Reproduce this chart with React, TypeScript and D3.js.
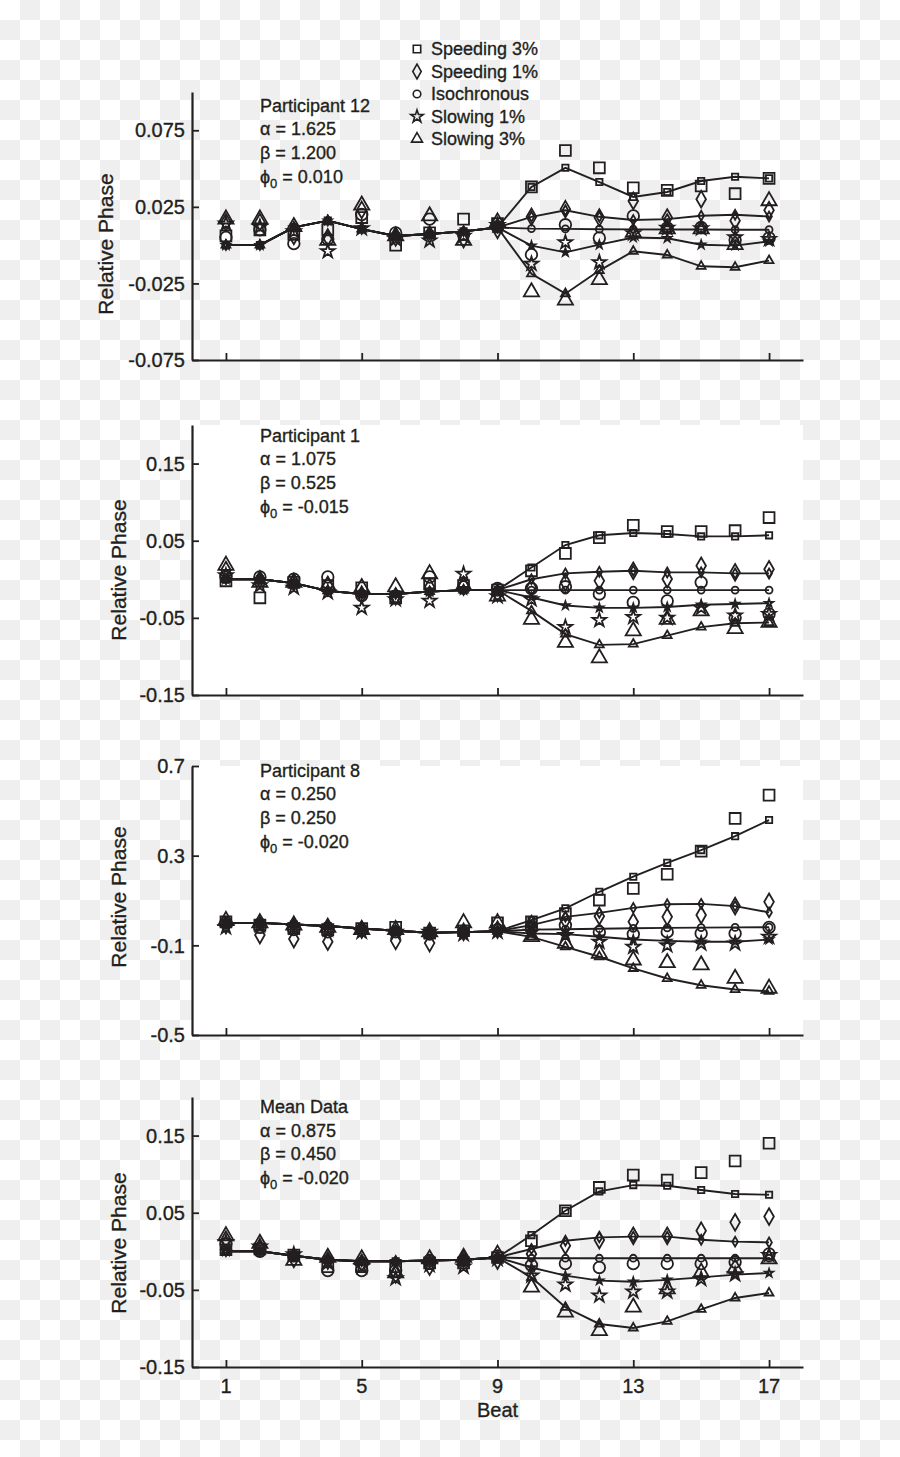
import { useEffect, useRef } from "react";
import * as d3 from "d3";

// Relative phase per beat, model fits (small markers joined by lines) and observed data (large markers)
const BEATS = [1, 2, 3, 4, 5, 6, 7, 8, 9, 10, 11, 12, 13, 14, 15, 16, 17];
const X_TICKS = [1, 5, 9, 13, 17];
const CONDITIONS = ["Speeding 3%", "Speeding 1%", "Isochronous", "Slowing 1%", "Slowing 3%"];

// Participant 12
const P12_Y_TICKS = [0.075, 0.025, -0.025, -0.075];
const P12_PARAMS = ["Participant 12", "1.625", "1.200", "0.010"];
const P12_MODEL_PRE = [0.0, 0.0, 0.0116, 0.016, 0.0105, 0.006, 0.0073, 0.009, 0.0115];
const P12_MODEL_SP3 = [0.038, 0.0505, 0.0412, 0.0315, 0.0347, 0.0419, 0.0447, 0.0436];
const P12_MODEL_SP1 = [0.0185, 0.0228, 0.0185, 0.0164, 0.017, 0.0192, 0.0198, 0.0187];
const P12_MODEL_ISO = [0.0108, 0.0106, 0.0104, 0.0103, 0.0102, 0.0102, 0.0101, 0.0101];
const P12_MODEL_SL1 = [-0.0003, -0.0047, 0.0003, 0.005, 0.0045, 0.0003, -0.0003, 0.0025];
const P12_MODEL_SL3 = [-0.0187, -0.0317, -0.0166, -0.004, -0.0064, -0.0138, -0.0144, -0.0101];
const P12_DATA_SP3 = [0.006, 0.01, 0.007, 0.01, 0.018, 0.0, 0.008, 0.017, 0.014, 0.038, 0.0618, 0.0505, 0.0375, 0.0358, 0.0386, 0.0336, 0.0436];
const P12_DATA_SP1 = [0.015, 0.015, 0.006, 0.005, 0.023, 0.005, 0.007, 0.004, 0.01, 0.0185, 0.0235, 0.018, 0.0289, 0.018, 0.03, 0.016, 0.0228];
const P12_DATA_ISO = [0.005, 0.01, 0.001, 0.004, 0.02, 0.008, 0.017, 0.007, 0.012, -0.0062, 0.0133, 0.0047, 0.0191, 0.0112, 0.0115, 0.0034, 0.0047];
const P12_DATA_SL1 = [0.014, 0.012, 0.009, -0.004, 0.011, 0.004, 0.003, 0.006, 0.013, -0.0122, 0.0018, -0.0112, 0.0077, 0.0112, 0.011, 0.005, 0.004];
const P12_DATA_SL3 = [0.017, 0.017, 0.012, 0.003, 0.026, 0.006, 0.019, 0.003, 0.015, -0.0306, -0.036, -0.0226, 0.0083, 0.0105, 0.0105, 0.0003, 0.0289];

// Participant 1
const P1_Y_TICKS = [0.15, 0.05, -0.05, -0.15];
const P1_PARAMS = ["Participant 1", "1.075", "0.525", "-0.015"];
const P1_MODEL_PRE = [0.0, 0.0, -0.005, -0.015, -0.019, -0.019, -0.016, -0.014, -0.014];
const P1_MODEL_SP3 = [0.0153, 0.0444, 0.057, 0.06, 0.0587, 0.0556, 0.0556, 0.057];
const P1_MODEL_SP1 = [0.0, 0.0076, 0.0097, 0.011, 0.0089, 0.009, 0.0076, 0.0076];
const P1_MODEL_ISO = [-0.014, -0.014, -0.014, -0.014, -0.014, -0.014, -0.014, -0.014];
const P1_MODEL_SL1 = [-0.0236, -0.034, -0.037, -0.037, -0.036, -0.033, -0.032, -0.031];
const P1_MODEL_SL3 = [-0.041, -0.071, -0.085, -0.084, -0.073, -0.062, -0.057, -0.056];
const P1_DATA_SP3 = [-0.002, -0.024, -0.004, -0.008, -0.011, -0.024, -0.006, -0.008, -0.014, 0.011, 0.0335, 0.054, 0.07, 0.062, 0.062, 0.063, 0.08];
const P1_DATA_SP1 = [0.012, 0.0, -0.004, -0.008, -0.02, -0.022, -0.01, -0.008, -0.018, -0.0106, -0.004, -0.002, 0.011, 0.0003, 0.0175, 0.009, 0.013];
const P1_DATA_ISO = [0.004, 0.003, 0.0, 0.003, -0.021, -0.024, 0.003, -0.01, -0.012, -0.012, -0.0097, -0.019, -0.03, -0.028, -0.004, -0.05, -0.045];
const P1_DATA_SL1 = [0.005, -0.008, -0.011, -0.017, -0.037, -0.026, -0.028, 0.007, -0.022, -0.026, -0.062, -0.053, -0.049, -0.05, -0.037, -0.047, -0.045];
const P1_DATA_SL3 = [0.018, -0.004, -0.004, -0.008, -0.011, -0.01, 0.007, -0.008, -0.022, -0.052, -0.082, -0.102, -0.067, -0.052, -0.041, -0.064, -0.056];

// Participant 8
const P8_Y_TICKS = [0.7, 0.3, -0.1, -0.5];
const P8_PARAMS = ["Participant 8", "0.250", "0.250", "-0.020"];
const P8_MODEL_PRE = [0.0, 0.0, -0.007, -0.014, -0.025, -0.035, -0.044, -0.041, -0.037];
const P8_MODEL_SP3 = [0.0125, 0.065, 0.139, 0.206, 0.268, 0.325, 0.387, 0.459];
const P8_MODEL_SP1 = [-0.01, 0.027, 0.045, 0.067, 0.083, 0.085, 0.075, 0.047];
const P8_MODEL_ISO = [-0.03, -0.028, -0.026, -0.024, -0.022, -0.021, -0.02, -0.019];
const P8_MODEL_SL1 = [-0.047, -0.05, -0.062, -0.074, -0.08, -0.084, -0.084, -0.074];
const P8_MODEL_SL3 = [-0.062, -0.107, -0.151, -0.203, -0.248, -0.278, -0.297, -0.305];
const P8_DATA_SP3 = [0.005, -0.01, -0.025, -0.03, -0.025, -0.02, -0.045, -0.035, 0.0, 0.005, 0.042, 0.102, 0.154, 0.217, 0.32, 0.466, 0.57];
const P8_DATA_SP1 = [-0.01, -0.054, -0.072, -0.084, -0.03, -0.08, -0.09, -0.04, -0.03, -0.005, 0.0125, 0.03, 0.005, 0.027, 0.035, 0.075, 0.094];
const P8_DATA_ISO = [0.0, -0.02, -0.03, -0.04, -0.03, -0.04, -0.05, -0.04, -0.03, -0.02, -0.01, -0.04, -0.05, -0.04, -0.047, -0.047, -0.02];
const P8_DATA_SL1 = [-0.02, -0.01, -0.02, -0.03, -0.04, -0.04, -0.04, -0.05, -0.04, -0.04, -0.055, -0.084, -0.107, -0.1, -0.092, -0.092, -0.062];
const P8_DATA_SL3 = [0.01, 0.0, -0.01, -0.02, -0.03, -0.03, -0.04, 0.0, 0.0, -0.062, -0.092, -0.136, -0.166, -0.178, -0.188, -0.248, -0.292];

// Mean data
const MEAN_Y_TICKS = [0.15, 0.05, -0.05, -0.15];
const MEAN_PARAMS = ["Mean Data", "0.875", "0.450", "-0.020"];
const MEAN_MODEL_PRE = [0.0, 0.0, -0.0057, -0.011, -0.013, -0.013, -0.012, -0.011, -0.008];
const MEAN_MODEL_SP3 = [0.021, 0.0526, 0.0776, 0.0858, 0.085, 0.0794, 0.0742, 0.0733];
const MEAN_MODEL_SP1 = [0.003, 0.0137, 0.018, 0.019, 0.019, 0.015, 0.0125, 0.0115];
const MEAN_MODEL_ISO = [-0.009, -0.009, -0.009, -0.009, -0.009, -0.009, -0.009, -0.009];
const MEAN_MODEL_SL1 = [-0.021, -0.0316, -0.038, -0.0394, -0.037, -0.0338, -0.0303, -0.0282];
const MEAN_MODEL_SL3 = [-0.0338, -0.0726, -0.0942, -0.0994, -0.0908, -0.0752, -0.0605, -0.054];
const MEAN_DATA_SP3 = [0.002, 0.003, -0.005, -0.02, -0.02, -0.02, -0.015, -0.015, -0.008, 0.0137, 0.0526, 0.0828, 0.0988, 0.0923, 0.102, 0.117, 0.14];
const MEAN_DATA_SP1 = [0.015, 0.005, -0.01, -0.012, -0.015, -0.03, -0.02, -0.01, -0.012, -0.0035, 0.0073, 0.0146, 0.02, 0.02, 0.0267, 0.0375, 0.045];
const MEAN_DATA_ISO = [0.01, 0.0, -0.006, -0.025, -0.025, -0.025, -0.012, -0.012, -0.006, -0.018, -0.016, -0.021, -0.016, -0.016, -0.016, -0.014, -0.0035];
const MEAN_DATA_SL1 = [0.012, 0.006, -0.004, -0.015, -0.02, -0.035, -0.018, -0.02, -0.01, -0.0316, -0.0433, -0.0575, -0.0523, -0.0523, -0.036, -0.03, -0.005];
const MEAN_DATA_SL3 = [0.02, 0.01, -0.012, -0.008, -0.01, -0.028, -0.01, -0.008, -0.004, -0.0467, -0.079, -0.1029, -0.0726, -0.0489, -0.0273, -0.022, -0.01];

const INK = "#231f20";
const FONT = "'Liberation Sans', Arial, Helvetica, sans-serif";
const WIDTH = 900;
const HEIGHT = 1457;

// símbolo por condición: forma, tamaño modelo, tamaño datos, tamaño leyenda
const SYMBOLS = [
  { type: d3.symbolSquare, small: 40, large: 118, legend: 55 },
  { type: d3.symbolDiamond, small: 28, large: 80, legend: 62 },
  { type: d3.symbolCircle, small: 38, large: 105, legend: 45 },
  { type: d3.symbolStar, small: 20, large: 58, legend: 48 },
  { type: d3.symbolTriangle, small: 34, large: 100, legend: 52 },
];

const PANELS = [
  {
    top: 92, bottom: 360, domain: [-0.075, 0.1], ticks: P12_Y_TICKS, params: P12_PARAMS,
    textY: 111.5, labelX: 105, labelY: 244, white: false,
    pre: P12_MODEL_PRE,
    model: [P12_MODEL_SP3, P12_MODEL_SP1, P12_MODEL_ISO, P12_MODEL_SL1, P12_MODEL_SL3],
    data: [P12_DATA_SP3, P12_DATA_SP1, P12_DATA_ISO, P12_DATA_SL1, P12_DATA_SL3],
  },
  {
    top: 425, bottom: 695, domain: [-0.15, 0.2], ticks: P1_Y_TICKS, params: P1_PARAMS,
    textY: 441.5, labelX: 118, labelY: 570, white: true,
    pre: P1_MODEL_PRE,
    model: [P1_MODEL_SP3, P1_MODEL_SP1, P1_MODEL_ISO, P1_MODEL_SL1, P1_MODEL_SL3],
    data: [P1_DATA_SP3, P1_DATA_SP1, P1_DATA_ISO, P1_DATA_SL1, P1_DATA_SL3],
  },
  {
    top: 766, bottom: 1035, domain: [-0.5, 0.7], ticks: P8_Y_TICKS, params: P8_PARAMS,
    textY: 776.5, labelX: 118, labelY: 897, white: true,
    pre: P8_MODEL_PRE,
    model: [P8_MODEL_SP3, P8_MODEL_SP1, P8_MODEL_ISO, P8_MODEL_SL1, P8_MODEL_SL3],
    data: [P8_DATA_SP3, P8_DATA_SP1, P8_DATA_ISO, P8_DATA_SL1, P8_DATA_SL3],
  },
  {
    top: 1097, bottom: 1367, domain: [-0.15, 0.2], ticks: MEAN_Y_TICKS, params: MEAN_PARAMS,
    textY: 1113, labelX: 118, labelY: 1243, white: false,
    pre: MEAN_MODEL_PRE,
    model: [MEAN_MODEL_SP3, MEAN_MODEL_SP1, MEAN_MODEL_ISO, MEAN_MODEL_SL1, MEAN_MODEL_SL3],
    data: [MEAN_DATA_SP3, MEAN_DATA_SP1, MEAN_DATA_ISO, MEAN_DATA_SL1, MEAN_DATA_SL3],
  },
];

const App = () => {
  const svgRef = useRef<SVGSVGElement>(null);

  useEffect(() => {
    if (!svgRef.current) return;
    const svg = d3.select(svgRef.current);
    svg.selectAll("*").remove();

    // fondo a cuadros (transparencia)
    const defs = svg.append("defs");
    const pat = defs.append("pattern")
      .attr("id", "checker")
      .attr("width", 40)
      .attr("height", 40)
      .attr("patternUnits", "userSpaceOnUse");
    pat.append("rect").attr("width", 40).attr("height", 40).attr("fill", "#ffffff");
    pat.append("rect").attr("x", 20).attr("width", 20).attr("height", 20).attr("fill", "#efefef");
    pat.append("rect").attr("y", 20).attr("width", 20).attr("height", 20).attr("fill", "#efefef");
    svg.append("rect").attr("width", WIDTH).attr("height", HEIGHT).attr("fill", "url(#checker)");

    const x = d3.scaleLinear().domain([0, 18]).range([192, 803]);

    const textStyle = (sel, size) =>
      sel.style("font-family", FONT)
        .style("font-size", size)
        .style("fill", INK)
        .style("stroke", INK)
        .style("stroke-width", 0.35);

    PANELS.forEach((p, pi) => {
      const y = d3.scaleLinear().domain(p.domain).range([p.bottom, p.top]);
      const g = svg.append("g");

      if (p.white) {
        g.append("rect")
          .attr("x", x(0))
          .attr("y", p.top)
          .attr("width", x(18) - x(0))
          .attr("height", p.bottom - p.top)
          .attr("fill", "#ffffff");
      }

      // ejes
      const yAxis = g.append("g")
        .attr("transform", `translate(${x(0)},0)`)
        .call(d3.axisRight(y).tickValues(p.ticks).tickSize(7).tickFormat(() => "").tickSizeOuter(0));
      yAxis.select(".domain").attr("stroke", INK).attr("stroke-width", 2.2);
      yAxis.selectAll(".tick line").attr("stroke", INK).attr("stroke-width", 1.8);

      const xAxis = g.append("g")
        .attr("transform", `translate(0,${p.bottom})`)
        .call(d3.axisTop(x).tickValues(X_TICKS).tickSize(7).tickFormat(() => "").tickSizeOuter(0));
      xAxis.select(".domain").attr("stroke", INK).attr("stroke-width", 2.2);
      xAxis.selectAll(".tick line").attr("stroke", INK).attr("stroke-width", 1.8);

      // etiquetas del eje Y
      g.selectAll(".ylab")
        .data(p.ticks)
        .enter()
        .append("text")
        .attr("x", 185)
        .attr("y", (d) => y(d))
        .attr("dy", "0.36em")
        .attr("text-anchor", "end")
        .call(textStyle, "20px")
        .text((d) => String(d));

      g.append("text")
        .attr("transform", `translate(${p.labelX},${p.labelY}) rotate(-90)`)
        .attr("dy", "0.36em")
        .attr("text-anchor", "middle")
        .call(textStyle, "21px")
        .text("Relative Phase");

      // parámetros del modelo
      const lh = 23.7;
      const t = g.append("g").call(textStyle, "18px");
      t.append("text").attr("x", 260).attr("y", p.textY).text(p.params[0]);
      t.append("text").attr("x", 260).attr("y", p.textY + lh).text(`α = ${p.params[1]}`);
      t.append("text").attr("x", 260).attr("y", p.textY + 2 * lh).text(`β = ${p.params[2]}`);
      const phi = t.append("text").attr("x", 260).attr("y", p.textY + 3 * lh);
      phi.append("tspan").text("ϕ");
      phi.append("tspan").attr("dy", 5).style("font-size", "13px").text("0");
      phi.append("tspan").attr("dy", -5).text(" = " + p.params[3]);

      // líneas del modelo
      const line = d3.line<number>()
        .x((d, i) => x(BEATS[i]))
        .y((d) => y(d));

      p.model.forEach((post) => {
        const vals = p.pre.concat(post);
        g.append("path")
          .datum(vals)
          .attr("fill", "none")
          .attr("stroke", INK)
          .attr("stroke-width", 1.9)
          .attr("d", line);
      });

      p.model.forEach((post, ci) => {
        const vals = p.pre.concat(post);
        const sym = SYMBOLS[ci];
        g.selectAll(`.m${pi}-${ci}`)
          .data(vals)
          .enter()
          .append("path")
          .attr("transform", (d, i) => `translate(${x(BEATS[i])},${y(d)})`)
          .attr("d", d3.symbol().type(sym.type).size(sym.small)())
          .attr("fill", "none")
          .attr("stroke", INK)
          .attr("stroke-width", 1.8);
      });

      // datos observados
      p.data.forEach((vals, ci) => {
        const sym = SYMBOLS[ci];
        g.selectAll(`.d${pi}-${ci}`)
          .data(vals)
          .enter()
          .append("path")
          .attr("transform", (d, i) => `translate(${x(BEATS[i])},${y(d)})`)
          .attr("d", d3.symbol().type(sym.type).size(sym.large)())
          .attr("fill", "none")
          .attr("stroke", INK)
          .attr("stroke-width", 1.8);
      });

      // etiquetas del eje X sólo en el último panel
      if (pi === PANELS.length - 1) {
        g.selectAll(".xlab")
          .data(X_TICKS)
          .enter()
          .append("text")
          .attr("x", (d) => x(d))
          .attr("y", p.bottom + 26)
          .attr("text-anchor", "middle")
          .call(textStyle, "20px")
          .text((d) => String(d));

        g.append("text")
          .attr("x", x(9))
          .attr("y", p.bottom + 50)
          .attr("text-anchor", "middle")
          .call(textStyle, "20px")
          .text("Beat");
      }
    });

    // leyenda
    const legend = svg.append("g");
    CONDITIONS.forEach((name, i) => {
      const by = 55 + i * 22.5;
      legend.append("path")
        .attr("transform", `translate(417,${by - 6})`)
        .attr("d", d3.symbol().type(SYMBOLS[i].type).size(SYMBOLS[i].legend)())
        .attr("fill", "none")
        .attr("stroke", INK)
        .attr("stroke-width", 1.6);
      legend.append("text")
        .attr("x", 431)
        .attr("y", by)
        .call(textStyle, "18px")
        .text(name);
    });
  }, []);

  return (
    <svg
      ref={svgRef}
      width={WIDTH}
      height={HEIGHT}
      style={{ position: "absolute", left: 0, top: 0, display: "block" }}
    />
  );
};

export default App;
